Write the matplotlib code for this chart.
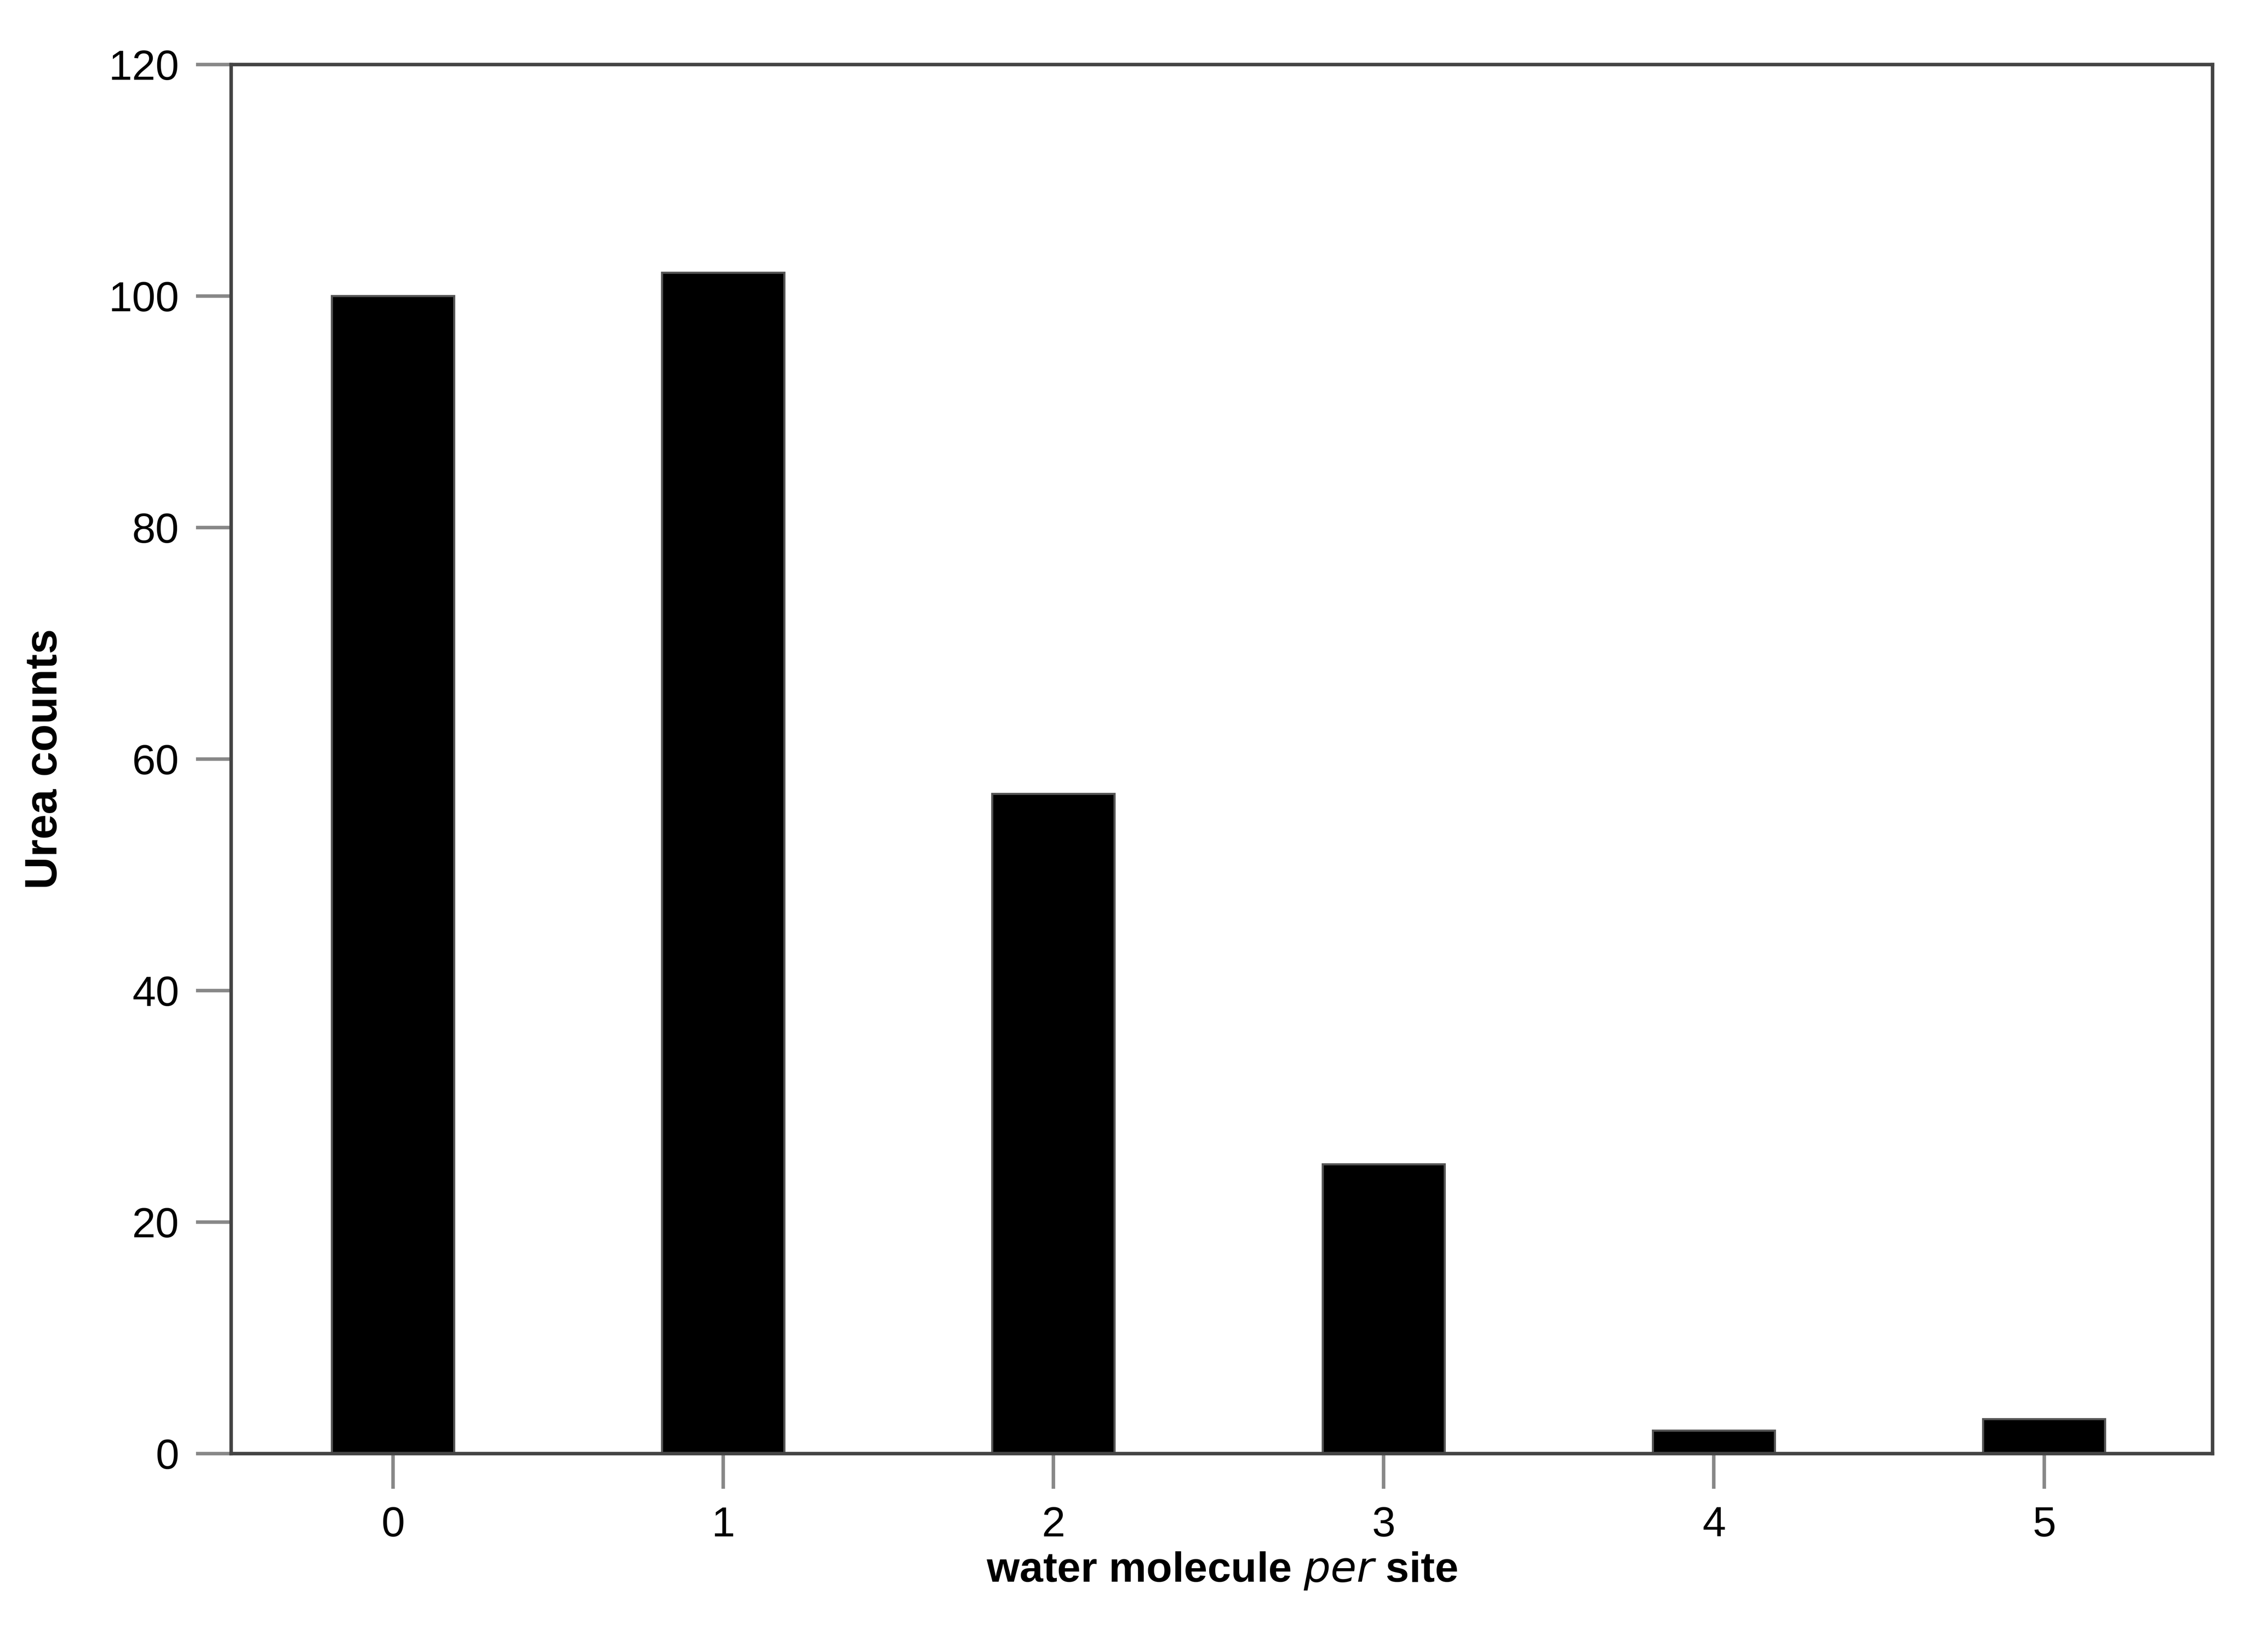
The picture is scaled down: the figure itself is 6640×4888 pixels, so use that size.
import matplotlib
matplotlib.use("Agg")
import matplotlib.pyplot as plt

categories = [0, 1, 2, 3, 4, 5]
counts = [100, 102, 57, 25, 2, 3]
yticks = [0, 20, 40, 60, 80, 100, 120]

plt.rcParams['font.family'] = ['Liberation Sans', 'DejaVu Sans']
fig = plt.figure(figsize=(6640/300, 4888/300), dpi=300)
ax = fig.add_axes([0.103, 0.12, 0.883, 0.841])
ax.bar(categories, counts, width=0.37, color='black', edgecolor='#555555', linewidth=1.5)
ax.set_xlim(-0.49, 5.51)
ax.set_ylim(0, 120)
ax.set_yticks(yticks)
ax.set_xticks(categories)
ax.tick_params(direction='out', length=25, width=2.5, color='#888888', labelsize=30, pad=12)
for s in ax.spines.values():
    s.set_linewidth(2.5)
    s.set_color('#444444')
ax.set_xlabel('water molecule $\\it{per}$ site', fontsize=30, fontweight='bold', labelpad=4)
ax.set_ylabel('Urea counts', fontsize=32, fontweight='bold', labelpad=30)
fig.savefig('out.png', dpi=300)
